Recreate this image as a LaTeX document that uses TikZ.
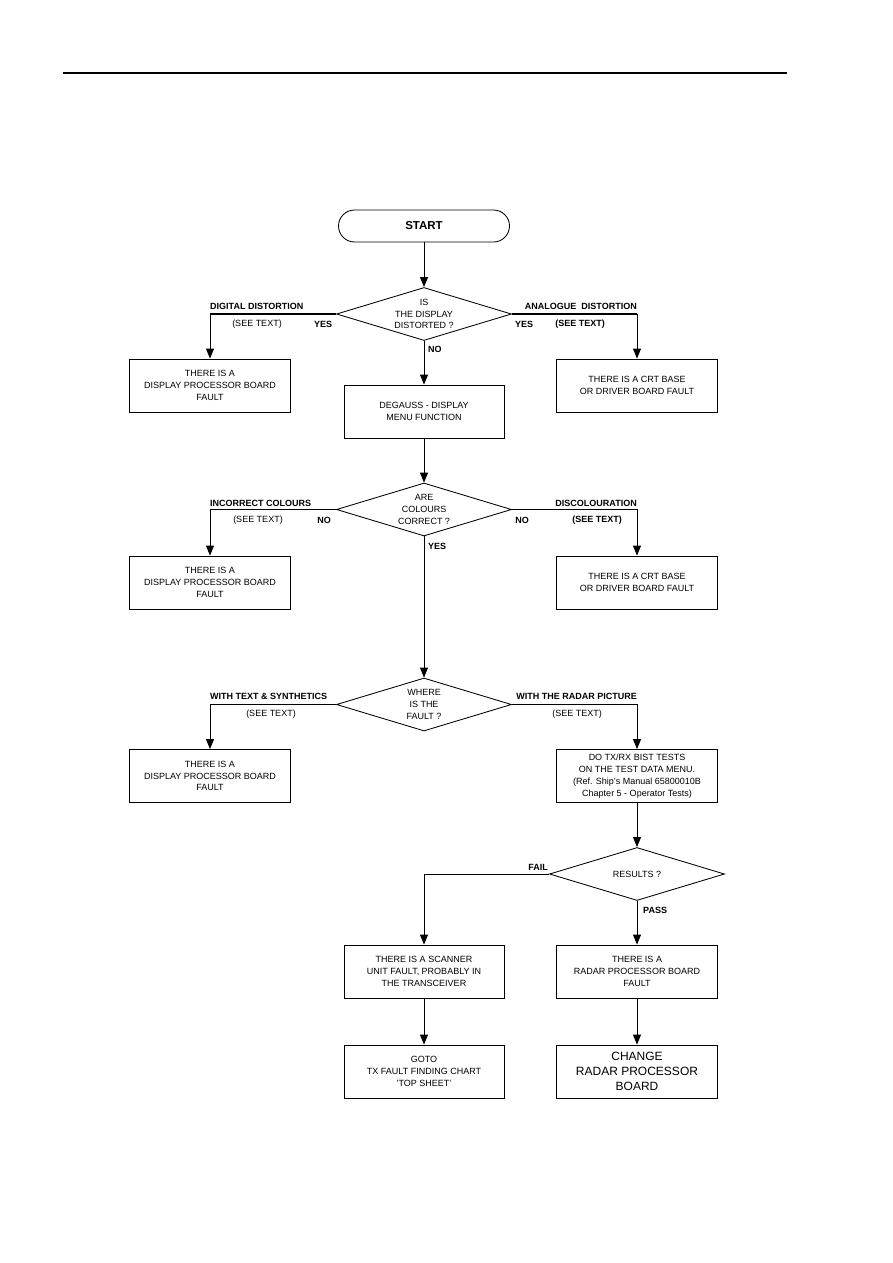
\documentclass[tikz,border=0pt]{standalone}
\usepackage{fontspec}
\setmainfont{Liberation Sans}
\usetikzlibrary{arrows.meta,shapes.geometric}
\begin{document}
\begin{tikzpicture}[x=1pt,y=-1pt,
  every node/.style={font=\fontsize{9}{11.8}\selectfont, align=center},
  box/.style={draw, line width=0.85pt, minimum width=161pt, minimum height=53pt, inner sep=0pt},
  dia/.style={draw, diamond, aspect=3.3, inner sep=0pt, minimum width=175pt, minimum height=53pt, line width=0.85pt},
  lbl/.style={font=\fontsize{9}{10}\selectfont\bfseries, inner sep=0pt},
  note/.style={font=\fontsize{9}{10}\selectfont, inner sep=0pt},
  conn/.style={line width=0.95pt},
  arr/.style={conn, -{Triangle[length=10pt,width=8pt]}},
]
\useasboundingbox (0,0) rectangle (893,1263);
\draw[line width=1.5pt] (63,73) -- (787,73);

% nodes
\node[draw, rounded corners=16pt, minimum width=171pt, minimum height=32pt, line width=0.85pt,
      font=\fontsize{11.5}{12}\selectfont\bfseries] (start) at (424,226) {START};
\node[dia] (d1) at (424,314) {IS\\THE DISPLAY\\DISTORTED ?};
\node[box] (b1l) at (210,385.5) {THERE IS A\\DISPLAY PROCESSOR BOARD\\FAULT};
\node[box] (b1r) at (637,385.5) {THERE IS A CRT BASE\\OR DRIVER BOARD FAULT};
\node[box, minimum width=160pt] (deg) at (424,411.5) {DEGAUSS - DISPLAY\\MENU FUNCTION};
\node[dia] (d2) at (424,509.5) {ARE\\COLOURS\\CORRECT ?};
\node[box] (b2l) at (210,582.5) {THERE IS A\\DISPLAY PROCESSOR BOARD\\FAULT};
\node[box] (b2r) at (637,582.5) {THERE IS A CRT BASE\\OR DRIVER BOARD FAULT};
\node[dia] (d3) at (424,704.5) {WHERE\\IS THE\\FAULT ?};
\node[box] (b3l) at (210,776) {THERE IS A\\DISPLAY PROCESSOR BOARD\\FAULT};
\node[box] (b3r) at (637,776) {DO TX/RX BIST TESTS\\ON THE TEST DATA MENU.\\(Ref. Ship's Manual 65800010B\\Chapter 5 - Operator Tests)};
\node[dia] (d4) at (637,874) {RESULTS ?};
\node[box, minimum width=160pt] (scan) at (424,971.5) {THERE IS A SCANNER\\UNIT FAULT, PROBABLY IN\\THE TRANSCEIVER};
\node[box] (rpb) at (637,971.5) {THERE IS A\\RADAR PROCESSOR BOARD\\FAULT};
\node[box, minimum width=160pt] (goto) at (424,1071.5) {GOTO\\TX FAULT FINDING CHART\\'TOP SHEET'};
\node[box, font=\fontsize{12}{15}\selectfont] (chg) at (637,1071.5) {CHANGE\\RADAR PROCESSOR\\BOARD};

% connectors
\coordinate (c1l) at (210,314);
\coordinate (c1r) at (637,314);
\draw[arr] (start.south) -- (d1.north);
\draw[line width=2pt] (d1.west) -- (c1l);
\draw[arr] (c1l) -- (b1l.north);
\draw[line width=2pt] (d1.east) -- (c1r);
\draw[arr] (c1r) -- (b1r.north);
\draw[arr] (d1.south) -- (deg.north);
\draw[arr] (deg.south) -- (d2.north);
\draw[arr] (d2.west) -| (b2l.north);
\draw[arr] (d2.east) -| (b2r.north);
\draw[arr] (d2.south) -- (d3.north);
\draw[arr] (d3.west) -| (b3l.north);
\draw[arr] (d3.east) -| (b3r.north);
\draw[arr] (b3r.south) -- (d4.north);
\draw[arr] (d4.west) -| (scan.north);
\draw[arr] (d4.south) -- (rpb.north);
\draw[arr] (scan.south) -- (goto.north);
\draw[arr] (rpb.south) -- (chg.north);

% labels
\node[lbl, anchor=west] (l1a) at (210,306) {DIGITAL DISTORTION};
\node[note] (l1b) at (257,324) {(SEE TEXT)};
\node[lbl] (l1c) at (323,324) {YES};
\node[lbl, anchor=east] (l1d) at (637,306) {ANALOGUE\ \ DISTORTION};
\node[lbl] (l1e) at (524,324) {YES};
\node[lbl] (l1f) at (580,324) {(SEE TEXT)};
\node[lbl, anchor=west] (l1g) at (428,349) {NO};

\node[lbl, anchor=west] (l2a) at (210,503) {INCORRECT COLOURS};
\node[note] (l2b) at (258,520) {(SEE TEXT)};
\node[lbl] (l2c) at (324,520) {NO};
\node[lbl, anchor=east] (l2d) at (637,503) {DISCOLOURATION};
\node[lbl] (l2e) at (522,520) {NO};
\node[lbl] (l2f) at (597,520) {(SEE TEXT)};
\node[lbl, anchor=west] (l2g) at (428,546) {YES};

\node[lbl, anchor=west] (l3a) at (210,696) {WITH TEXT \& SYNTHETICS};
\node[note] (l3b) at (271,714) {(SEE TEXT)};
\node[lbl, anchor=east] (l3c) at (637,696) {WITH THE RADAR PICTURE};
\node[note] (l3d) at (577,714) {(SEE TEXT)};

\node[lbl, anchor=east] (l4a) at (548,867) {FAIL};
\node[lbl, anchor=west] (l4b) at (643,910) {PASS};
\end{tikzpicture}
\end{document}
